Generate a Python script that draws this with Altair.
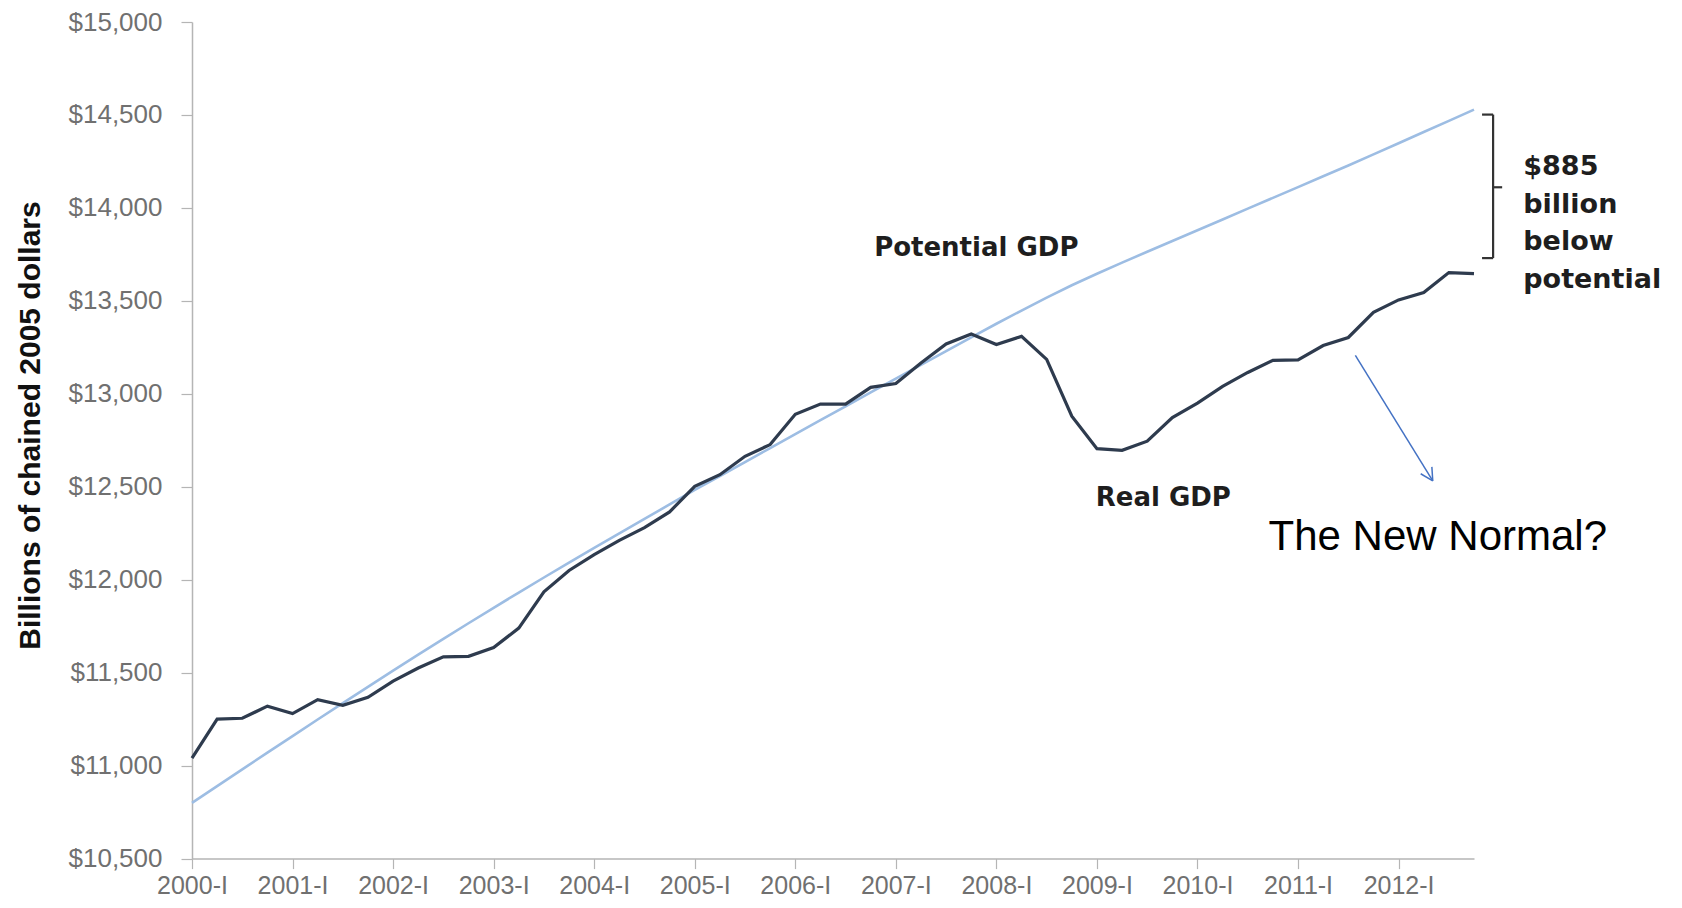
import json
import math
import altair as alt
import pandas as pd

# ---------------- data ----------------
QUARTERS = [f"{y}-{r}" for y in range(2000, 2013) for r in ["I", "II", "III", "IV"]]

REAL_GDP = [
    11040, 11250, 11255, 11320,   # 2000
    11280, 11355, 11325, 11368,   # 2001
    11455, 11525, 11585, 11588,   # 2002
    11635, 11740, 11935, 12050,   # 2003
    12135, 12212, 12280, 12365,   # 2004
    12502, 12565, 12664, 12727,   # 2005
    12890, 12945, 12945, 13035,   # 2006
    13055, 13166, 13268, 13322,   # 2007
    13265, 13309, 13185, 12880,   # 2008
    12705, 12696, 12745, 12872,   # 2009
    12950, 13040, 13115, 13180,   # 2010
    13183, 13260, 13303, 13438,   # 2011
    13505, 13545, 13652, 13647,   # 2012
]

POTENTIAL_GDP = [
    10800, 10890, 10980, 11070,   # 2000
    11159, 11248, 11336, 11424,   # 2001
    11511, 11597, 11682, 11766,   # 2002
    11849, 11931, 12012, 12092,   # 2003
    12171, 12249, 12327, 12405,   # 2004
    12483, 12558, 12633, 12708,   # 2005
    12783, 12858, 12933, 13008,   # 2006
    13082, 13156, 13230, 13304,   # 2007
    13377, 13448, 13517, 13584,   # 2008
    13646, 13706, 13764, 13822,   # 2009
    13880, 13938, 13996, 14054,   # 2010
    14112, 14170, 14228, 14288,   # 2011
    14348, 14408, 14468, 14529,   # 2012
]

TICK_YEARS = list(range(2000, 2013))
TICK_LABELS = [f"{y}-I" for y in TICK_YEARS]
Y_TICKS = list(range(10500, 15001, 500))

BRACKET_TEXT = ["$885", "billion", "below", "potential"]

# ---------------- layout constants ----------------
PLOT_W = 1282
PLOT_H = 836.6
X_DOMAIN = [2000, 2012.75]
Y_DOMAIN = [10500, 15000]
PX_PER_YEAR = PLOT_W / (X_DOMAIN[1] - X_DOMAIN[0])
PX_PER_UNIT = PLOT_H / (Y_DOMAIN[1] - Y_DOMAIN[0])

t = [2000 + i * 0.25 for i in range(len(QUARTERS))]
real_df = pd.DataFrame({"t": t, "value": REAL_GDP, "quarter": QUARTERS})
pot_df = pd.DataFrame({"t": t, "value": POTENTIAL_GDP, "quarter": QUARTERS})

x_scale = alt.Scale(domain=X_DOMAIN, nice=False, zero=False)
y_scale = alt.Scale(domain=Y_DOMAIN, nice=False, zero=False)

label_expr = json.dumps(TICK_LABELS) + "[datum.value - 2000]"

x_enc = alt.X(
    "t:Q",
    scale=x_scale,
    axis=alt.Axis(
        values=TICK_YEARS,
        labelExpr=label_expr,
        title=None,
        grid=False,
        domainColor="#b5b5b5",
        domainWidth=1.5,
        tickColor="#b5b5b5",
        tickWidth=1.2,
        tickSize=10,
        labelFont="Liberation Sans",
        labelFontSize=25,
        labelColor="#707070",
        labelPadding=5,
        labelFlush=False,
        labelOverlap=False,
    ),
)

y_enc = alt.Y(
    "value:Q",
    scale=y_scale,
    axis=alt.Axis(
        values=Y_TICKS,
        labelExpr="'$' + format(datum.value, ',')",
        title="Billions of chained 2005 dollars",
        titleFont="Liberation Sans",
        titleFontSize=30,
        titleFontWeight="bold",
        titleColor="#111111",
        titleAngle=270,
        titleX=-162,
        titleY=403,
        titleAlign="center",
        titleBaseline="middle",
        grid=False,
        domainColor="#b5b5b5",
        domainWidth=1.5,
        tickColor="#b5b5b5",
        tickWidth=1.2,
        tickSize=11,
        labelFont="Liberation Sans",
        labelFontSize=26,
        labelColor="#707070",
        labelPadding=19,
        labelFlush=False,
        labelOverlap=False,
    ),
)

potential_line = alt.Chart(pot_df).mark_line(
    color="#9dbde3", strokeWidth=2.6
).encode(x=x_enc, y=y_enc)

real_line = alt.Chart(real_df).mark_line(
    color="#2e3b4e", strokeWidth=3.2
).encode(x="t:Q", y="value:Q")

# ---------------- annotations ----------------
# bracket (data coordinates)
bx, bx_hook, bx_tick = 2012.94, 2012.83, 2013.03
by_top, by_bot, by_mid = 14502, 13730, 14111
bracket_df = pd.DataFrame({
    "x": [bx, bx_hook, bx_hook, bx],
    "x2": [bx, bx, bx, bx_tick],
    "y": [by_bot, by_top, by_bot, by_mid],
    "y2": [by_top, by_top, by_bot, by_mid],
})
bracket = alt.Chart(bracket_df).mark_rule(color="#333333", strokeWidth=2.2).encode(
    x="x:Q", x2="x2:Q", y="y:Q", y2="y2:Q"
)

# arrow from just below the Real GDP line down to the "New Normal" note
a_start = (2011.57, 13207)
a_tip = (2012.34, 12532)
dxp = (a_tip[0] - a_start[0]) * PX_PER_YEAR
dyp = -(a_tip[1] - a_start[1]) * PX_PER_UNIT
L = math.hypot(dxp, dyp)
ux, uy = -dxp / L, -dyp / L
arms = []
for ang in (math.radians(28), math.radians(-28)):
    rx = ux * math.cos(ang) - uy * math.sin(ang)
    ry = ux * math.sin(ang) + uy * math.cos(ang)
    arms.append((a_tip[0] + rx * 14 / PX_PER_YEAR, a_tip[1] - ry * 14 / PX_PER_UNIT))
arrow_df = pd.DataFrame({
    "x": [a_start[0], a_tip[0], a_tip[0]],
    "x2": [a_tip[0], arms[0][0], arms[1][0]],
    "y": [a_start[1], a_tip[1], a_tip[1]],
    "y2": [a_tip[1], arms[0][1], arms[1][1]],
})
arrow = alt.Chart(arrow_df).mark_rule(color="#4472c4", strokeWidth=1.5).encode(
    x="x:Q", x2="x2:Q", y="y:Q", y2="y2:Q"
)

series_labels_df = pd.DataFrame({
    "x": [2007.80, 2009.66],
    "y": [13783, 12438],
    "label": ["Potential GDP", "Real GDP"],
})
series_labels = alt.Chart(series_labels_df).mark_text(
    font="DejaVu Sans", fontWeight="bold", fontSize=26, color="#1e1e1e",
    align="center", baseline="middle",
).encode(x="x:Q", y="y:Q", text="label:N")

gap_df = pd.DataFrame({
    "x": [2013.24] * 4,
    "y": [14218, 14013, 13814, 13610],
    "label": BRACKET_TEXT,
})
gap_text = alt.Chart(gap_df).mark_text(
    font="DejaVu Sans", fontWeight="bold", fontSize=27, color="#1e1e1e",
    align="left", baseline="middle",
).encode(x="x:Q", y="y:Q", text="label:N")

note_df = pd.DataFrame({"x": [2012.39], "y": [12228], "label": ["The New Normal?"]})
note = alt.Chart(note_df).mark_text(
    font="Liberation Sans", fontSize=42, color="#000000",
    align="center", baseline="middle",
).encode(x="x:Q", y="y:Q", text="label:N")

chart = alt.layer(
    potential_line, real_line, bracket, arrow, series_labels, gap_text, note
).properties(
    width=PLOT_W,
    height=PLOT_H,
    autosize=alt.AutoSizeParams(type="none"),
    padding={"left": 184, "top": 14, "right": 200, "bottom": 41.4},
    background="white",
).configure_view(stroke=None)

chart.save("out.html", embed_options={"renderer": "svg", "actions": False})
